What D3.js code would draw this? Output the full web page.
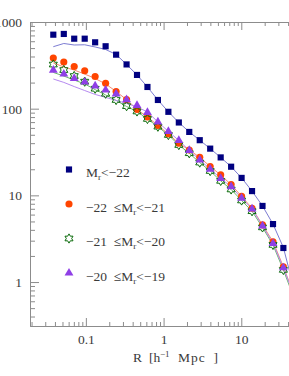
<!DOCTYPE html>
<html>
<head>
<meta charset="utf-8">
<script src="https://cdn.jsdelivr.net/npm/d3@7"></script>
<style>
  body { margin: 0; background: #fff; }
  svg { display: block; }
</style>
</head>
<body>
<div id="chart"></div>
<script>
// separations R [h^-1 Mpc]
const radius = [0.0381, 0.0520, 0.0708, 0.0966, 0.1316, 0.1795, 0.245, 0.334, 0.455, 0.620,
  0.845, 1.153, 1.571, 2.14, 2.92, 3.98, 5.43, 7.40, 10.09, 13.75, 18.75, 25.6, 34.8, 47.5];

// measured points, one array per luminosity bin
const brightest = [714, 728, 642, 642, 583, 525, 420, 324, 245, 178, 126, 92, 69.3, 53.9, 43.3,
  34.6, 27.4, 21.4, 15.9, 11.2, 7.55, 4.66, 2.47, 0.85];
const bin21 = [384, 346, 307, 274, 235, 196, 158, 127, 98, 80.2, 64.0, 51.1, 39.9, 33.4, 27.5,
  21.5, 17.2, 13.3, 9.76, 7.09, 4.56, 2.92, 1.50, 0.72];
const bin20 = [323, 279, 238, 205, 170, 149, 126, 107, 92.9, 76.1, 62.0, 49.7, 38.1, 30.6, 23.9,
  19.1, 14.7, 11.7, 8.73, 6.56, 4.27, 2.68, 1.38, 0.66];
const bin19 = [278, 251, 223, 203, 183, 164, 148, 127, 109, 90.5, 70.3, 54.6, 43.0, 33.0, 25.6,
  20.1, 15.7, 12.6, 9.27, 6.98, 4.44, 2.79, 1.46, 0.70];

// model curves
const brightestModel = [519, 565, 543, 546, 515, 482, 422, 324, 245, 178, 126, 92, 69.3, 53.9, 43.3,
  34.6, 27.4, 21.4, 15.9, 11.2, 7.55, 4.66, 2.5, 0.85];
const bin21Model = [337, 303, 279, 251, 223, 193, 158, 127, 98, 80.2, 64.0, 51.1, 39.9, 33.4, 27.5,
  21.5, 17.2, 13.3, 9.76, 7.09, 4.56, 2.92, 1.50, 0.72];
const bin20Model = [262, 238, 214, 193, 166, 144, 124.5, 106, 92.9, 76.1, 62.0, 49.7, 38.1, 30.6, 23.9,
  19.1, 14.7, 11.7, 8.73, 6.56, 4.27, 2.68, 1.38, 0.66];
const bin19Model = [220, 201, 180, 162, 146, 135, 124.5, 115, 105, 91.6, 70.3, 54.6, 43.0, 33.0, 25.6,
  20.1, 15.7, 12.6, 9.27, 6.98, 4.44, 2.79, 1.46, 0.70];

const legendLow  = ['', '\u221222', '\u221221', '\u221220'];
const legendHigh = ['\u221222', '\u221221', '\u221220', '\u221219'];

const xTickLabels = [0.1, 1, 10];
const yTickLabels = [1, 10, 100, 1000];


const option =
  {
    width: 289,
    height: 376,
    plot: { left: 30, right: 319, top: 22, bottom: 326 },
    font: { family: '"Liberation Serif", "Times New Roman", serif', size: 13.5, color: '#3a3a3a' },
    axis: { color: '#8c8c8c', major: 9, minor: 5 }
  };

const hexagram =
  {
    draw(context, size)
    {
      const r = Math.sqrt(size) * 0.62;
      const ri = r * 0.577;
      for (let k = 0; k < 12; k++)
      {
        const a = -Math.PI / 2 + k * Math.PI / 6;
        const rr = k % 2 ? ri : r;
        if (k === 0) context.moveTo(rr * Math.cos(a), rr * Math.sin(a));
        else context.lineTo(rr * Math.cos(a), rr * Math.sin(a));
      }
      context.closePath();
    }
  };

const series =
  [
    { values: brightest, model: brightestModel, symbol: d3.symbolSquare, size: 38, fill: '#000080', stroke: 'none', line: '#7c7cd2' },
    { values: bin21,     model: bin21Model,     symbol: d3.symbolCircle, size: 40, fill: '#ff4500', stroke: 'none', line: '#f58a72' },
    { values: bin20,     model: bin20Model,     symbol: hexagram,        size: 56, fill: 'none',    stroke: '#0b6b0b', line: '#6cb86c' },
    { values: bin19,     model: bin19Model,     symbol: d3.symbolTriangle, size: 34, fill: '#8f3fe6', stroke: 'none', line: '#b68af0' }
  ];


const svg = d3.select('#chart').append('svg')
  .attr('width', option.width)
  .attr('height', option.height)
  .attr('font-family', option.font.family)
;

const x = d3.scaleLog().domain([0.0191, 100]).range([option.plot.left, option.plot.right]);
const y = d3.scaleLog().domain([0.311, 1000]).range([option.plot.bottom, option.plot.top]);

const minor = (scale, majors) => scale.ticks().filter(v => !majors.some(m => Math.abs(m - v) / v < 1e-6));

const style = g =>
{
  g.selectAll('path.domain').attr('stroke', option.axis.color);
  g.selectAll('line').attr('stroke', option.axis.color);
  g.selectAll('text')
    .attr('font-family', option.font.family)
    .attr('font-size', option.font.size)
    .attr('fill', option.font.color)
  ;
};

// left axis
svg.append('g')
  .attr('transform', `translate( ${ option.plot.left } 0 )`)
  .call(d3.axisLeft(y).tickValues(yTickLabels).tickFormat(d3.format('d')).tickSizeInner(-option.axis.major).tickSizeOuter(0).tickPadding(8))
  .call(style)
;
svg.append('g')
  .attr('transform', `translate( ${ option.plot.left } 0 )`)
  .call(d3.axisLeft(y).tickValues(minor(y, yTickLabels)).tickFormat('').tickSizeInner(-option.axis.minor).tickSizeOuter(0))
  .call(style)
;

// bottom axis
svg.append('g')
  .attr('transform', `translate( 0 ${ option.plot.bottom } )`)
  .call(d3.axisBottom(x).tickValues(xTickLabels).tickFormat(d3.format('')).tickSizeInner(-option.axis.major + 1).tickSizeOuter(0).tickPadding(8))
  .call(style)
;
svg.append('g')
  .attr('transform', `translate( 0 ${ option.plot.bottom } )`)
  .call(d3.axisBottom(x).tickValues(minor(x, xTickLabels)).tickFormat('').tickSizeInner(-option.axis.minor + 1).tickSizeOuter(0))
  .call(style)
;

// top axis
svg.append('g')
  .attr('transform', `translate( 0 ${ option.plot.top } )`)
  .call(d3.axisTop(x).tickValues(xTickLabels).tickFormat('').tickSizeInner(-option.axis.major + 1).tickSizeOuter(0))
  .call(style)
;
svg.append('g')
  .attr('transform', `translate( 0 ${ option.plot.top } )`)
  .call(d3.axisTop(x).tickValues(minor(x, xTickLabels)).tickFormat('').tickSizeInner(-option.axis.minor + 1).tickSizeOuter(0))
  .call(style)
;

// x title, spread out like the original plotting font
const title = svg.append('text')
  .attr('y', 362)
  .attr('font-size', option.font.size)
  .attr('fill', option.font.color)
;
title.append('tspan').attr('x', 133).text('R');
title.append('tspan').attr('x', 149).text('[h');
title.append('tspan').attr('x', 160).attr('dy', -5).attr('font-size', 9).text('\u22121');
title.append('tspan').attr('x', 178).attr('dy', 5).attr('letter-spacing', 1).text('Mpc');
title.append('tspan').attr('x', 213.5).text(']');

// data
const plot = svg.append('g');

const line = d3.line()
  .x((d, i) => x(radius[i]))
  .y(d => y(d))
;

plot.selectAll('path.model')
  .data(series)
  .join('path')
  .attr('class', 'model')
  .attr('d', d => line(d.model))
  .attr('fill', 'none')
  .attr('stroke', d => d.line)
  .attr('stroke-width', 1)
;

series.forEach(s =>
{
  plot.append('g').selectAll('path')
    .data(s.values)
    .join('path')
    .attr('transform', (d, i) => `translate( ${ x(radius[i]) } ${ y(d) } )`)
    .attr('d', d3.symbol(s.symbol, s.size))
    .attr('fill', s.fill)
    .attr('stroke', s.stroke)
    .attr('stroke-width', 1)
  ;
});

// legend
const legend = svg.append('g')
  .selectAll('g')
  .data(series)
  .join('g')
  .attr('transform', (d, i) => `translate( 69 ${ 169.5 + i * 34.5 } )`)
;

legend.append('path')
  .attr('d', d => d3.symbol(d.symbol, d.size)())
  .attr('fill', d => d.fill)
  .attr('stroke', d => d.stroke)
;

const label = legend.append('text')
  .attr('x', 17)
  .attr('y', 7.5)
  .attr('font-size', option.font.size)
  .attr('fill', option.font.color)
  .style('white-space', 'pre')
;

label.append('tspan').text((d, i) => legendLow[i] ? `${ legendLow[i] }  \u2264` : '');
label.append('tspan').text('M');
label.append('tspan').attr('dy', 3).attr('font-size', 9).text('r');
label.append('tspan').attr('dy', -3).text((d, i) => `<${ legendHigh[i] }`);
</script>
</body>
</html>
